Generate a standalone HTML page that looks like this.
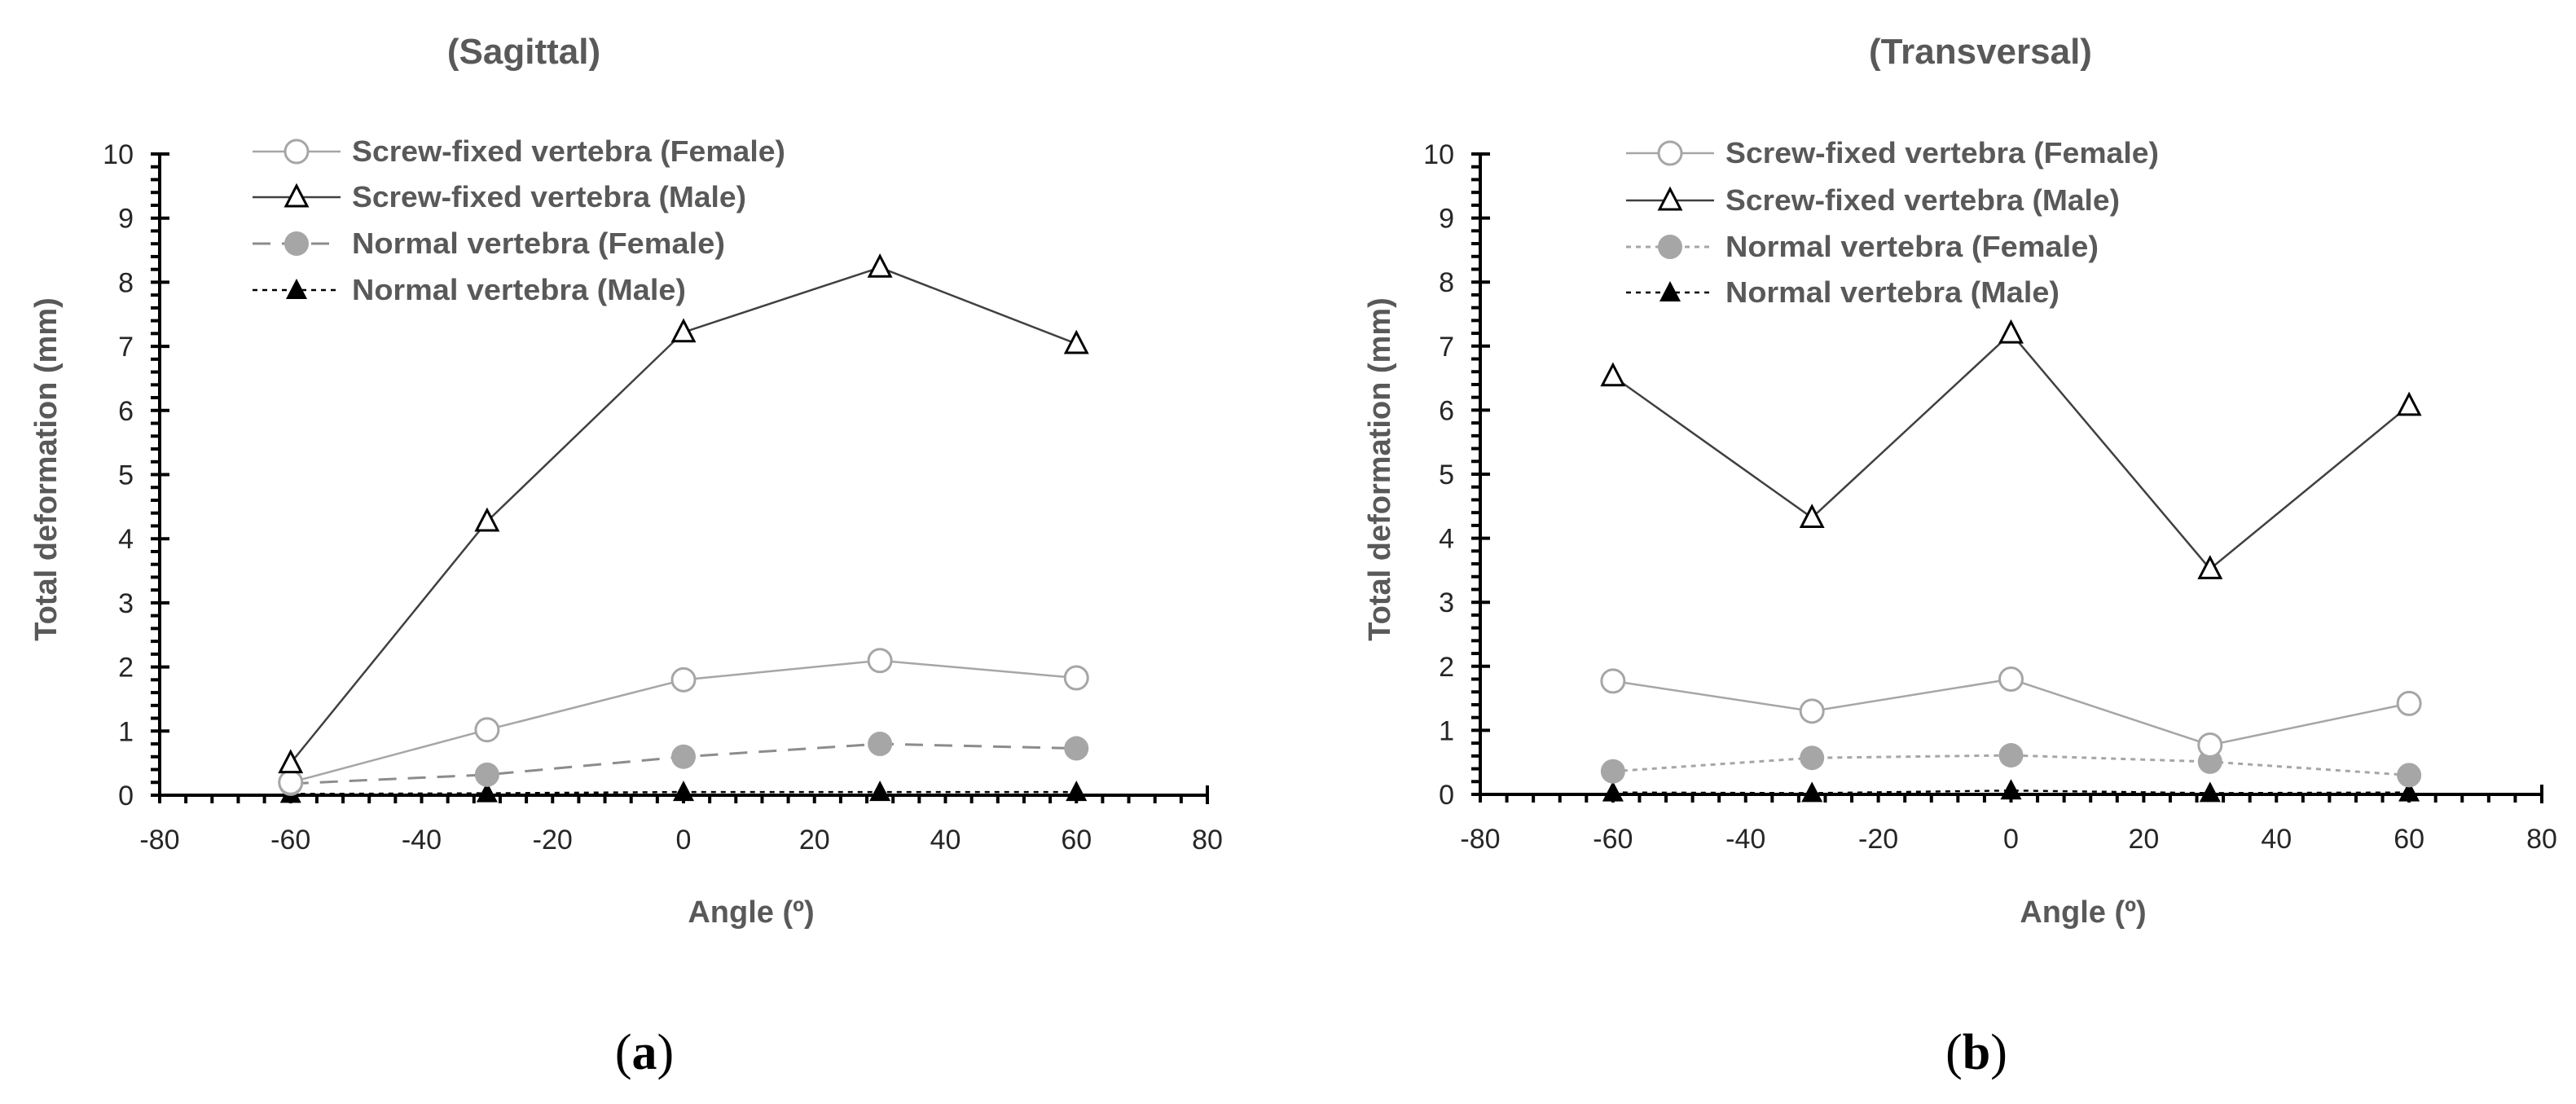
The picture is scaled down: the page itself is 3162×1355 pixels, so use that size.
<!DOCTYPE html>
<html><head><meta charset="utf-8"><style>
html,body{margin:0;padding:0;background:#fff;}
svg{display:block;font-family:"Liberation Sans",sans-serif;}
</style></head><body>
<svg id="fig" width="3162" height="1355" viewBox="0 0 3162 1355" xmlns="http://www.w3.org/2000/svg"></svg>
<script>
const angles = [-60, -30, 0, 30, 60];
const xTicks = [-80, -60, -40, -20, 0, 20, 40, 60, 80];
const yTicks = [0, 1, 2, 3, 4, 5, 6, 7, 8, 9, 10];
const seriesNames = ["Screw-fixed vertebra (Female)", "Screw-fixed vertebra (Male)", "Normal vertebra (Female)", "Normal vertebra (Male)"];
const sagScrewFemale = [0.2, 1.02, 1.8, 2.1, 1.83];
const sagScrewMale = [0.5, 4.27, 7.22, 8.23, 7.04];
const sagNormalFemale = [0.18, 0.32, 0.6, 0.8, 0.73];
const sagNormalMale = [0.02, 0.03, 0.05, 0.05, 0.05];
const traScrewFemale = [1.77, 1.3, 1.8, 0.77, 1.42];
const traScrewMale = [6.53, 4.32, 7.2, 3.52, 6.07];
const traNormalFemale = [0.36, 0.57, 0.61, 0.51, 0.3];
const traNormalMale = [0.03, 0.02, 0.06, 0.02, 0.03];

const NS = "http://www.w3.org/2000/svg";
const svg = document.getElementById('fig');
function mk(tag, attrs, parent, text) {
  const e = document.createElementNS(NS, tag);
  for (const k in attrs) e.setAttribute(k, attrs[k]);
  if (text !== undefined) e.textContent = text;
  (parent || svg).appendChild(e);
  return e;
}

function marker(g, kind, cx, cy) {
  let m;
  if (kind === 'circle-open') m = mk('circle', {cx, cy, r: 14, fill: '#fff', stroke: '#a6a6a6', 'stroke-width': 3}, g);
  else if (kind === 'circle-fill') m = mk('circle', {cx, cy, r: 15, fill: '#a6a6a6', stroke: 'none'}, g);
  else {
    const pts = `${cx},${cy - 14} ${cx - 13},${cy + 11} ${cx + 13},${cy + 11}`;
    if (kind === 'tri-open') m = mk('polygon', {points: pts, fill: '#fff', stroke: '#000', 'stroke-width': 3}, g);
    else m = mk('polygon', {points: pts, fill: '#000', stroke: 'none'}, g);
  }
  return m;
}

function chart(cfg) {
  const g = mk('g', {});
  
  
  const X = v => cfg.x0 + (v + 80) / 160 * (cfg.x1 - cfg.x0);
  const Y = v => cfg.y0 - v / 10 * (cfg.y0 - cfg.y10);
  // title
  const t = mk('text', {x: cfg.titleX, y: 78, 'text-anchor': 'middle', 'font-size': 44, 'font-weight': 'bold', fill: '#595959'}, g, cfg.title);
  
  
  // axes
  const ax = mk('g', {stroke: '#000', 'stroke-width': 4}, g);
  
  
  mk('line', {x1: X(-80), y1: Y(10), x2: X(-80), y2: Y(0) + 2}, ax);
  mk('line', {x1: X(-80) - 2, y1: Y(0), x2: X(80), y2: Y(0)}, ax);
  for (let i = 0; i <= 50; i++) {
    const v = i * 0.2, y = Y(v);
    if (i % 5 === 0) mk('line', {x1: X(-80) - 11, y1: y, x2: X(-80) + 12, y2: y}, ax);
    else mk('line', {x1: X(-80) - 11, y1: y, x2: X(-80), y2: y}, ax);
  }
  for (let i = 0; i <= 40; i++) {
    const v = -80 + i * 4, x = X(v);
    if (i === 40) mk('line', {x1: x, y1: Y(0) - 12, x2: x, y2: Y(0) + 11}, ax);
    else mk('line', {x1: x, y1: Y(0), x2: x, y2: Y(0) + 10}, ax);
  }
  yTicks.forEach(v => {
    const e = mk('text', {x: X(-80) - 32, y: Y(v) + 12, 'text-anchor': 'end', 'font-size': 34, fill: '#262626'}, g, String(v));
    
    
  });
  xTicks.forEach(v => {
    const e = mk('text', {x: X(v), y: Y(0) + 66, 'text-anchor': 'middle', 'font-size': 34, fill: '#262626'}, g, String(v));
    
    
  });
  const xt = mk('text', {x: cfg.xTitleX, y: 1132, 'text-anchor': 'middle', 'font-size': 38, 'font-weight': 'bold', fill: '#595959'}, g, 'Angle (º)');
  
  
  const yt = mk('text', {x: 0, y: 0, 'text-anchor': 'middle', 'font-size': 38, 'font-weight': 'bold', fill: '#595959', transform: `translate(${cfg.yTitleX + 13},576) rotate(-90)`}, g, 'Total  deformation (mm)');
  
  
  const lab = mk('text', {x: cfg.labelX, y: 1312, 'text-anchor': 'middle', 'font-size': 62, 'font-family': '"Liberation Serif",serif', fill: '#000'}, g);
  
  
  mk('tspan', {}, lab, '(');
  mk('tspan', {'font-weight': 'bold'}, lab, cfg.label);
  mk('tspan', {}, lab, ')');
  // series
  const styles = [
    {stroke: '#a6a6a6', w: 2.5, dash: null, m: 'circle-open'},
    {stroke: '#404040', w: 2.5, dash: null, m: 'tri-open'},
    {stroke: '#8c8c8c', w: 3, dash: cfg.nfDash, m: 'circle-fill'},
    {stroke: '#000', w: 2.5, dash: '6,6', m: 'tri-fill'}
  ];
  if (cfg.nfColor) styles[2].stroke = cfg.nfColor;
  const order = [3, 2, 0, 1];
  order.forEach(si => {
    const st = styles[si], data = cfg.data[si];
    const sg = mk('g', {}, g);
    
    
    const pts = data.map((v, i) => X(angles[i]) + ',' + Y(v)).join(' ');
    const pl = mk('polyline', {points: pts, fill: 'none', stroke: st.stroke, 'stroke-width': st.w}, sg);
    if (st.dash) pl.setAttribute('stroke-dasharray', st.dash);
    data.forEach((v, i) => {
      const m = marker(sg, st.m, X(angles[i]), Y(v));
      
      
    });
  });
  // legend
  const lg = mk('g', {}, g);
  
  
  seriesNames.forEach((n, i) => {
    const st = styles[i], y = cfg.legY[i];
    const eg = mk('g', {}, lg);
    
    
    const l = mk('line', {x1: cfg.legX, y1: y, x2: cfg.legX + 108, y2: y, stroke: st.stroke, 'stroke-width': st.w}, eg);
    if (st.dash) l.setAttribute('stroke-dasharray', st.dash);
    marker(eg, st.m, cfg.legX + 54, y);
    const widths = [532, 484, 458, 410];
    mk('text', {x: cfg.legX + 122, y: y + 12, 'font-size': 36, 'font-weight': 'bold', fill: '#595959', textLength: widths[i] * cfg.legScale, lengthAdjust: 'spacingAndGlyphs'}, eg, n);
  });
}

chart({id: 'sagittal-chart', title: '(Sagittal)', titleX: 643, x0: 196, x1: 1482, y0: 976, y10: 189,
  xTitleX: 922, yTitleX: 56, labelX: 791, label: 'a', legX: 310, legY: [186, 242, 299, 356], legScale: 1,
  nfDash: '22,14', data: [sagScrewFemale, sagScrewMale, sagNormalFemale, sagNormalMale]});
chart({id: 'transversal-chart', title: '(Transversal)', titleX: 2431, x0: 1817, x1: 3120, y0: 975, y10: 189,
  xTitleX: 2557, yTitleX: 1693, labelX: 2426, label: 'b', legX: 1996, legY: [188, 246, 303, 359], legScale: 1,
  nfDash: '6,6', nfColor: '#a6a6a6', data: [traScrewFemale, traScrewMale, traNormalFemale, traNormalMale]});
</script>
</body></html>
